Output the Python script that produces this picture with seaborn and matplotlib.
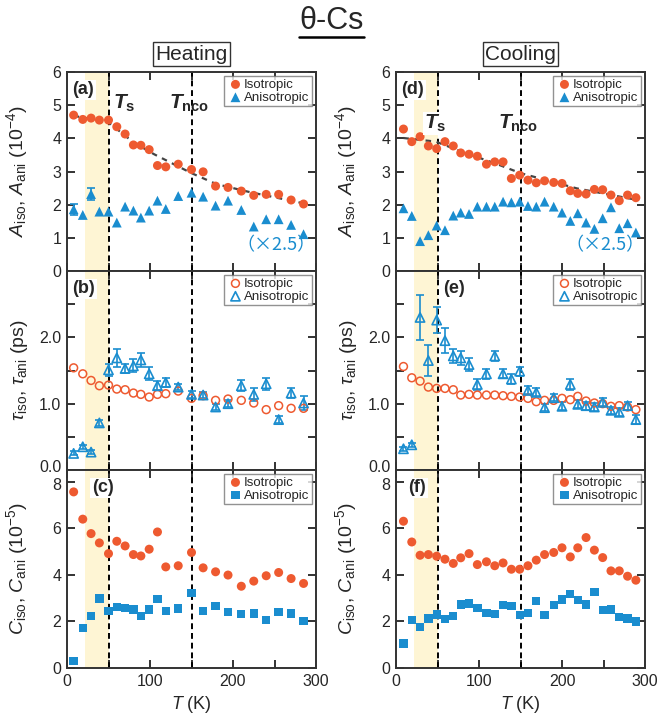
import numpy as np
import pandas as pd
import matplotlib
matplotlib.use("Agg")
import matplotlib.pyplot as plt
import seaborn as sns
from matplotlib.lines import Line2D
from matplotlib.ticker import FixedLocator, FuncFormatter
from matplotlib.transforms import ScaledTranslation

# ---------------- data ----------------
T_heat = [8, 19, 29, 39, 50, 60, 70, 80, 89, 99, 109, 119, 134, 150, 164, 179, 194, 210, 225, 240, 255, 270, 285]
A_iso_heat = [4.70, 4.57, 4.61, 4.55, 4.55, 4.35, 4.13, 3.80, 3.79, 3.66, 3.18, 3.14, 3.22, 3.06, 2.99, 2.56, 2.52, 2.41, 2.28, 2.31, 2.31, 2.14, 2.02]
A_ani_heat = [1.86, 1.69, 2.32, 1.79, 1.79, 1.46, 1.94, 1.82, 1.61, 1.82, 2.12, 1.87, 2.26, 2.36, 2.24, 1.97, 2.12, 1.84, 1.34, 1.56, 1.56, 1.39, 1.11]
A_ani_heat_err = [0.17, 0, 0.18, 0, 0, 0, 0, 0, 0, 0, 0, 0, 0, 0, 0, 0, 0, 0, 0, 0, 0, 0, 0]
tau_iso_heat = [1.54, 1.45, 1.35, 1.27, 1.28, 1.22, 1.21, 1.16, 1.14, 1.10, 1.14, 1.15, 1.19, 1.08, 1.12, 1.05, 1.07, 1.05, 1.01, 0.91, 0.97, 0.93, 0.93]
tau_ani_heat = [0.25, 0.35, 0.27, 0.71, 1.51, 1.69, 1.53, 1.57, 1.66, 1.45, 1.27, 1.32, 1.25, 1.14, 1.13, 0.95, 1.00, 1.27, 1.14, 1.30, 0.76, 1.16, 1.01]
tau_ani_heat_err = [0.03, 0.03, 0.03, 0.05, 0.09, 0.13, 0.07, 0.10, 0.10, 0.10, 0.07, 0.07, 0.05, 0.05, 0.05, 0.05, 0.05, 0.08, 0.10, 0.09, 0.05, 0.08, 0.10]
C_iso_heat = [7.56, 6.39, 5.77, 5.37, 4.91, 5.44, 5.24, 4.87, 4.81, 5.10, 5.84, 4.34, 4.39, 4.96, 4.30, 4.13, 3.99, 3.51, 3.73, 3.96, 4.10, 3.84, 3.63]
C_ani_heat = [0.30, 1.73, 2.23, 2.99, 2.44, 2.63, 2.59, 2.51, 2.24, 2.51, 2.96, 2.44, 2.56, 3.23, 2.46, 2.66, 2.39, 2.31, 2.34, 2.06, 2.41, 2.34, 2.03]
T_fit_heat = [8, 50, 80, 105, 150, 180, 220, 285]
A_fit_heat = [4.68, 4.48, 3.88, 3.52, 2.95, 2.62, 2.38, 2.04]

T_cool = [9, 19, 29, 39, 49, 59, 69, 78, 88, 98, 109, 119, 129, 139, 149, 159, 169, 179, 190, 200, 210, 219, 229, 239, 249, 259, 269, 279, 289]
A_iso_cool = [4.28, 3.90, 4.05, 3.77, 3.69, 3.90, 3.77, 3.56, 3.52, 3.46, 3.22, 3.29, 3.29, 2.79, 2.89, 2.74, 2.66, 2.72, 2.67, 2.64, 2.42, 2.34, 2.32, 2.46, 2.45, 2.29, 2.12, 2.29, 2.21]
A_ani_cool = [1.89, 1.66, 0.90, 1.08, 1.37, 1.23, 1.67, 1.76, 1.72, 1.94, 1.94, 1.94, 2.09, 2.07, 2.09, 1.96, 1.94, 2.09, 1.94, 1.76, 1.51, 1.74, 1.46, 1.27, 1.59, 1.92, 1.29, 1.44, 1.16]
tau_iso_cool = [1.56, 1.39, 1.34, 1.25, 1.23, 1.23, 1.21, 1.13, 1.14, 1.13, 1.13, 1.13, 1.12, 1.11, 1.10, 1.08, 1.03, 1.05, 1.05, 1.08, 1.06, 1.11, 1.04, 1.01, 1.00, 0.96, 0.97, 0.95, 0.91]
tau_ani_cool = [0.32, 0.38, 2.30, 1.65, 2.26, 1.95, 1.72, 1.69, 1.59, 1.29, 1.45, 1.72, 1.45, 1.37, 1.49, 1.20, 1.17, 0.94, 1.09, 0.96, 1.29, 0.99, 0.97, 0.95, 1.02, 0.90, 0.87, 0.97, 0.76]
tau_ani_cool_err = [0.03, 0.03, 0.34, 0.23, 0.20, 0.19, 0.10, 0.10, 0.10, 0.08, 0.08, 0.07, 0.07, 0.07, 0.07, 0.06, 0.06, 0.05, 0.05, 0.06, 0.08, 0.06, 0.06, 0.06, 0.06, 0.05, 0.06, 0.06, 0.07]
C_iso_cool = [6.30, 5.41, 4.84, 4.87, 4.80, 4.67, 4.49, 4.73, 4.91, 4.44, 4.56, 4.39, 4.51, 4.24, 4.24, 4.39, 4.63, 4.87, 4.96, 5.16, 4.77, 5.16, 5.60, 5.06, 4.74, 4.17, 4.17, 3.94, 3.77]
C_ani_cool = [1.05, 2.06, 1.77, 2.13, 2.30, 2.09, 2.23, 2.73, 2.77, 2.59, 2.37, 2.31, 2.70, 2.66, 2.27, 2.37, 2.89, 2.27, 2.70, 2.94, 3.17, 2.91, 2.73, 3.27, 2.49, 2.51, 2.20, 2.13, 1.99]
T_fit_cool = [9, 48, 80, 120, 150, 218, 289]
A_fit_cool = [4.01, 3.90, 3.59, 3.24, 2.95, 2.49, 2.15]

T_s, T_nco = 50, 150
shade_range = (22, 50)

# ---------------- style ----------------
sns.set_style("ticks")
plt.rcParams["font.family"] = ["Liberation Sans", "DejaVu Sans"]
plt.rcParams["mathtext.fontset"] = "custom"
plt.rcParams["mathtext.rm"] = "Liberation Sans"
plt.rcParams["mathtext.it"] = "Liberation Sans:italic"
plt.rcParams["mathtext.bf"] = "Liberation Sans:italic:bold"
plt.rcParams["mathtext.sf"] = "Liberation Sans:bold"

ORANGE = "#EE5A30"
BLUE = "#1A8DCF"
SHADE = "#FEF5D4"
SPINE = "#333333"

fig = plt.figure(figsize=(6.63, 7.26), dpi=100)
W, H = 663, 726
col_x = [67, 396]
axw = 249
rows = [(72, 271), (271, 470), (470, 668)]
LABEL_FS = 14

def make_ax(col, row):
    x0 = col_x[col]
    top, bot = rows[row]
    return fig.add_axes([x0 / W, 1 - bot / H, axw / W, (bot - top) / H])

def style_ax(ax, row):
    ax.set_xlim(0, 300)
    ax.xaxis.set_major_locator(FixedLocator([0, 100, 200, 300]))
    ax.xaxis.set_minor_locator(FixedLocator([50, 150, 250]))
    ax.tick_params(which="both", direction="in", top=True, right=True,
                   length=6, width=1.4, color=SPINE, labelsize=11.5, pad=4)
    for s in ax.spines.values():
        s.set_linewidth(1.4)
        s.set_color(SPINE)
        s.set_visible(True)
    if row < 2:
        ax.tick_params(axis="x", labelbottom=False)
    ax.axvspan(*shade_range, color=SHADE, zorder=0, lw=0)
    for tv in (T_s, T_nco):
        ax.axvline(tv, color="black", ls=(0, (3, 2)), lw=1.4, zorder=1)

def legend(ax, loc="upper right"):
    leg = ax.legend(loc=loc, fontsize=9.5, frameon=True, fancybox=False,
                    borderpad=0.2, labelspacing=0.05, handletextpad=0.0,
                    handlelength=1.3, borderaxespad=0.3)
    leg.get_frame().set_edgecolor("#777777")
    leg.get_frame().set_linewidth(1.0)
    leg.set_zorder(6)

def label_box(ax, s, x, y, fs=13, ha="left"):
    ax.text(x, y, s, transform=ax.transAxes, fontsize=fs, fontweight="bold",
            ha=ha, va="center", zorder=7,
            bbox=dict(boxstyle="square,pad=0.1", fc="white", ec="none"))

datasets = [
    dict(T=T_heat, Aiso=A_iso_heat, Aani=A_ani_heat, Aerr=A_ani_heat_err,
         tiso=tau_iso_heat, tani=tau_ani_heat, terr=tau_ani_heat_err,
         Ciso=C_iso_heat, Cani=C_ani_heat, Tf=T_fit_heat, Af=A_fit_heat,
         labels=["(a)", "(b)", "(c)"], title="Heating"),
    dict(T=T_cool, Aiso=A_iso_cool, Aani=A_ani_cool, Aerr=[0] * len(T_cool),
         tiso=tau_iso_cool, tani=tau_ani_cool, terr=tau_ani_cool_err,
         Ciso=C_iso_cool, Cani=C_ani_cool, Tf=T_fit_cool, Af=A_fit_cool,
         labels=["(d)", "(e)", "(f)"], title="Cooling"),
]

for col, d in enumerate(datasets):
    df = pd.DataFrame(dict(T=d["T"], Aiso=d["Aiso"], Aani=d["Aani"], Aerr=d["Aerr"],
                           tiso=d["tiso"], tani=d["tani"], terr=d["terr"],
                           Ciso=d["Ciso"], Cani=d["Cani"]))
    fit = pd.DataFrame(dict(T=d["Tf"], A=d["Af"]))

    # ---- amplitude ----
    ax = make_ax(col, 0)
    style_ax(ax, 0)
    sns.lineplot(data=fit, x="T", y="A", ax=ax, color="#444444", lw=1.6,
                 ls=(0, (2.5, 2.5)), zorder=3, legend=False)
    errsel = df[df["Aerr"] > 0]
    if len(errsel):
        ax.errorbar(errsel["T"], errsel["Aani"], yerr=errsel["Aerr"], fmt="none",
                    ecolor=BLUE, elinewidth=1.2, capsize=3, capthick=1.2, zorder=3)
    sns.scatterplot(data=df, x="T", y="Aiso", ax=ax, color=ORANGE, marker="o",
                    s=42, edgecolor="none", linewidth=0, label="Isotropic", zorder=4)
    sns.scatterplot(data=df, x="T", y="Aani", ax=ax, color=BLUE, marker="^",
                    s=50, edgecolor="none", linewidth=0, label="Anisotropic", zorder=4)
    ax.set_ylim(0, 6)
    ax.yaxis.set_major_locator(FixedLocator([0, 1, 2, 3, 4, 5, 6]))
    ax.set_xlabel("")
    ax.set_ylabel(r"$A_{\rm iso}$, $A_{\rm ani}$ (10$^{-4}$)", fontsize=LABEL_FS)
    ax.yaxis.set_label_coords(-0.15, 0.5)
    legend(ax)
    label_box(ax, d["labels"][0], 0.02, 0.91)
    if col == 0:
        ax.text(55, 5.05, r"$\mathbf{T}_{\mathsf{s}}$", fontsize=15, ha="left", va="center", zorder=7)
        ax.text(123, 5.05, r"$\mathbf{T}_{\mathsf{nco}}$", fontsize=15, ha="left", va="center", zorder=7)
    else:
        ax.text(34, 4.45, r"$\mathbf{T}_{\mathsf{s}}$", fontsize=15, ha="left", va="center", zorder=7,
                bbox=dict(boxstyle="square,pad=0.05", fc="white", ec="none"))
        ax.text(123, 4.45, r"$\mathbf{T}_{\mathsf{nco}}$", fontsize=15, ha="left", va="center", zorder=7)
    ax.text(299, 0.78, "（×2.5）", color=BLUE, fontsize=13, ha="right", va="center",
            family=["Noto Sans CJK JP", "Liberation Sans"], zorder=7)
    ax.set_title(d["title"], fontsize=15, pad=9,
                 bbox=dict(boxstyle="square,pad=0.1", fc="white", ec="#333333", lw=1.0))

    # ---- tau ----
    ax = make_ax(col, 1)
    style_ax(ax, 1)
    ax.errorbar(df["T"], df["tani"], yerr=df["terr"], fmt="none", ecolor=BLUE,
                elinewidth=1.2, capsize=3, capthick=1.2, zorder=3)
    sns.scatterplot(data=df, x="T", y="tiso", ax=ax, marker="o", s=32,
                    facecolors="none", edgecolor=ORANGE, linewidth=1.1,
                    label="Isotropic", zorder=4)
    sns.scatterplot(data=df, x="T", y="tani", ax=ax, marker="^", s=44,
                    facecolors="none", edgecolor=BLUE, linewidth=1.2,
                    label="Anisotropic", zorder=4)
    ax.set_ylim(0, 3)
    ax.yaxis.set_major_locator(FixedLocator([0, 1, 2]))
    ax.yaxis.set_minor_locator(FixedLocator([0.5, 1.5, 2.5]))
    ax.yaxis.set_major_formatter(FuncFormatter(lambda v, p: f"{v:.1f}"))
    ax.set_xlabel("")
    ax.set_ylabel(r"$\tau_{\rm iso}$, $\tau_{\rm ani}$ (ps)", fontsize=LABEL_FS)
    ax.yaxis.set_label_coords(-0.15, 0.5)
    legend(ax)
    if col == 0:
        label_box(ax, d["labels"][1], 0.02, 0.91)
    else:
        label_box(ax, d["labels"][1], 0.19, 0.91)
    # lift the bottom "0.0" label a little so it does not collide with the "8" below
    fig.canvas.draw()
    for lab in ax.get_yticklabels():
        if lab.get_text() == "0.0":
            lab.set_transform(lab.get_transform() + ScaledTranslation(0, 3 / 72, fig.dpi_scale_trans))

    # ---- C ----
    ax = make_ax(col, 2)
    style_ax(ax, 2)
    sns.scatterplot(data=df, x="T", y="Ciso", ax=ax, color=ORANGE, marker="o",
                    s=42, edgecolor="none", linewidth=0, label="Isotropic", zorder=4)
    sns.scatterplot(data=df, x="T", y="Cani", ax=ax, color=BLUE, marker="s",
                    s=36, edgecolor="none", linewidth=0, label="Anisotropic", zorder=4)
    ax.set_ylim(0, 8.5)
    ax.yaxis.set_major_locator(FixedLocator([0, 2, 4, 6, 8]))
    ax.set_xlabel(r"$T$ (K)", fontsize=13, labelpad=4)
    ax.set_ylabel(r"$C_{\rm iso}$, $C_{\rm ani}$ (10$^{-5}$)", fontsize=LABEL_FS)
    ax.yaxis.set_label_coords(-0.15, 0.5)
    legend(ax)
    if col == 0:
        label_box(ax, d["labels"][2], 0.10, 0.91)
    else:
        label_box(ax, d["labels"][2], 0.05, 0.91)
    fig.canvas.draw()
    for lab in ax.get_yticklabels():
        if lab.get_text() == "8":
            lab.set_transform(lab.get_transform() + ScaledTranslation(0, -2 / 72, fig.dpi_scale_trans))

# title with underline
title = fig.text(0.5, 1 - 21 / H, "θ-Cs", fontsize=22, ha="center", va="center")
fig.canvas.draw()
bb = title.get_window_extent()
fig.add_artist(Line2D([bb.x0 / W, bb.x1 / W], [(bb.y0 - 1) / H, (bb.y0 - 1) / H],
                      color="black", lw=1.8, transform=fig.transFigure))

fig.savefig("out.png", dpi=100)
